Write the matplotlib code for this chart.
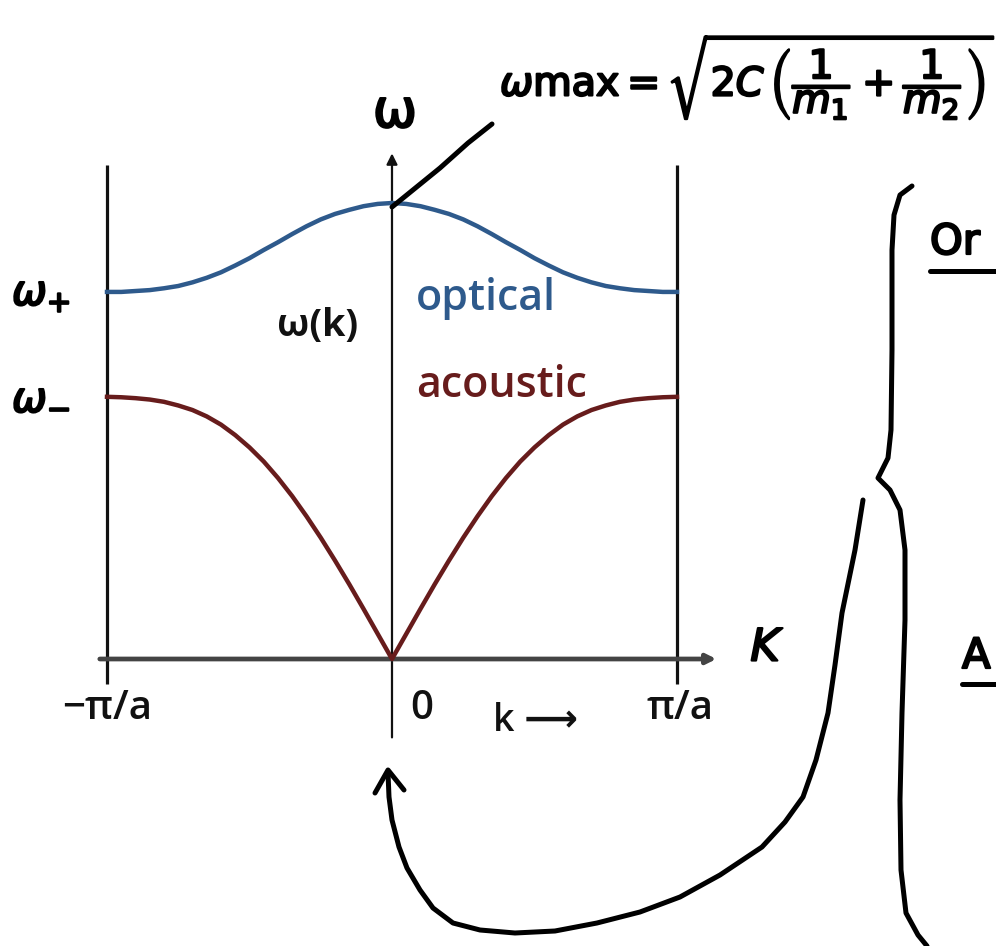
import numpy as np
import matplotlib
matplotlib.use("Agg")
import matplotlib.pyplot as plt
import matplotlib.patheffects as pe

# wave vector in units of pi/a
k = [-1.00, -0.95, -0.90, -0.85, -0.80, -0.75, -0.70, -0.65, -0.60, -0.55, -0.50,
     -0.45, -0.40, -0.35, -0.30, -0.25, -0.20, -0.15, -0.10, -0.05, 0.00,
     0.05, 0.10, 0.15, 0.20, 0.25, 0.30, 0.35, 0.40, 0.45, 0.50,
     0.55, 0.60, 0.65, 0.70, 0.75, 0.80, 0.85, 0.90, 0.95, 1.00]

# frequencies in units of w_max
w_optical = [0.805, 0.805, 0.807, 0.809, 0.813, 0.818, 0.826, 0.836, 0.848, 0.863, 0.879,
             0.897, 0.914, 0.932, 0.949, 0.964, 0.976, 0.985, 0.993, 0.998, 1.000,
             0.998, 0.993, 0.985, 0.976, 0.964, 0.949, 0.932, 0.914, 0.897, 0.879,
             0.863, 0.848, 0.836, 0.826, 0.818, 0.813, 0.809, 0.807, 0.805, 0.805]
w_acoustic = [0.575, 0.574, 0.572, 0.569, 0.564, 0.556, 0.546, 0.532, 0.514, 0.491, 0.464,
              0.433, 0.397, 0.357, 0.313, 0.266, 0.216, 0.164, 0.110, 0.055, 0.000,
              0.055, 0.110, 0.164, 0.216, 0.266, 0.313, 0.357, 0.397, 0.433, 0.464,
              0.491, 0.514, 0.532, 0.546, 0.556, 0.564, 0.569, 0.572, 0.574, 0.575]

tick_pos = [-1.0, 0.0, 1.0]
tick_labels = ["\u2212\u03c0/a", "0", "\u03c0/a"]

# hand-drawn notes (figure pixels, y down)
pointer = [(392, 207), (440, 168), (468, 143), (492, 124)]
brace = [(912, 186), (900, 195), (894, 215), (892, 250), (892, 350), (891, 430),
         (888, 458), (878, 478), (890, 490), (900, 510), (905, 550), (905, 620),
         (902, 713), (900, 800), (901, 870), (906, 913), (918, 935), (927, 946)]
loop_arrow = [(863, 500), (855, 550), (842, 613), (835, 665), (828, 713), (816, 760),
              (803, 797), (785, 822), (762, 847), (720, 875), (680, 897), (640, 912),
              (597, 923), (555, 931), (515, 933), (480, 930), (453, 923), (433, 908),
              (420, 890), (407, 868), (399, 847), (392, 820), (389, 797), (388, 773)]
arrow_head = [(375, 793), (388, 770), (404, 790)]

blue = "#2e5a8c"
red = "#671c1c"
print_font = dict(family=["Open Sans", "DejaVu Sans"], fontweight="semibold")

fig = plt.figure(figsize=(9.96, 9.46), dpi=100)
ax = fig.add_axes([0, 0, 1, 1])
ax.set_xlim(-1.3754, 2.1193)
ax.set_ylim(-0.6294, 1.4452)
ax.axis("off")

# zone boundaries and axes
for x in (-1.0, 1.0):
    ax.plot([x, x], [-0.055, 1.083], color="#111111", lw=2.3, solid_capstyle="butt")
ax.annotate("", xy=(0, 1.115), xytext=(0, -0.178),
            arrowprops=dict(arrowstyle="-|>", color="#111111", lw=1.6, mutation_scale=16))
ax.annotate("", xy=(1.148, 0), xytext=(-1.035, 0),
            arrowprops=dict(arrowstyle="-|>", color="#444444", lw=3.4, mutation_scale=14))

ax.plot(k, w_optical, color=blue, lw=3.2, solid_joinstyle="round", zorder=3)
ax.plot(k, w_acoustic, color=red, lw=3.2, solid_joinstyle="round", zorder=3)

for x, lab in zip(tick_pos, tick_labels):
    dx = {"0": 0.105, "\u03c0/a": 0.01, "\u2212\u03c0/a": 0.0}[lab]
    ax.text(x + dx, -0.11, lab, ha="center", va="center", fontsize=29,
            color="#111111", **print_font)
ax.text(0.505, -0.135, "k \u27f6", ha="center", va="center", fontsize=27,
        color="#111111", **print_font)
ax.text(-0.26, 0.73, "\u03c9(k)", ha="center", va="center", fontsize=27,
        color="#111111", fontweight="bold", family=["Open Sans", "DejaVu Sans"])
ax.text(0.085, 0.79, "optical", ha="left", va="center", fontsize=31,
        color=blue, fontweight="semibold", family=["Open Sans", "DejaVu Sans"])
ax.text(0.083, 0.60, "acoustic", ha="left", va="center", fontsize=31,
        color=red, fontweight="semibold", family=["Open Sans", "DejaVu Sans"])

# handwritten layer
ink = fig.add_axes([0, 0, 1, 1])
ink.set_xlim(0, 996)
ink.set_ylim(946, 0)
ink.axis("off")
ink.patch.set_alpha(0)

hand = dict(color="black", lw=3.6, solid_capstyle="round", solid_joinstyle="round")
for stroke in (pointer, brace, loop_arrow, arrow_head):
    xs, ys = zip(*stroke)
    ink.plot(xs, ys, **hand)
ink.plot([930, 996], [271, 271], **hand)
ink.plot([962, 996], [684, 684], **hand)

thick = [pe.withStroke(linewidth=1.6, foreground="black")]
ink.text(395, 112, "\u03c9", ha="center", va="center", fontsize=38,
         path_effects=thick)
ink.text(500, 78, r"$\omega\mathdefault{max} = \sqrt{2C\,\left(\dfrac{1}{m_1}+\dfrac{1}{m_2}\right)}$",
         ha="left", va="center", fontsize=28.5, path_effects=thick)
ink.text(12, 293, r"$\omega_{+}$", ha="left", va="center", fontsize=30, path_effects=thick)
ink.text(12, 400, r"$\omega_{-}$", ha="left", va="center", fontsize=30, path_effects=thick)
ink.text(765, 648, "K", ha="center", va="center", fontsize=32, fontstyle="italic",
         path_effects=thick)
ink.text(930, 242, "Or", ha="left", va="center", fontsize=30, path_effects=thick)
ink.text(962, 656, "A", ha="left", va="center", fontsize=30, path_effects=thick)

fig.savefig("out.png", dpi=100)
